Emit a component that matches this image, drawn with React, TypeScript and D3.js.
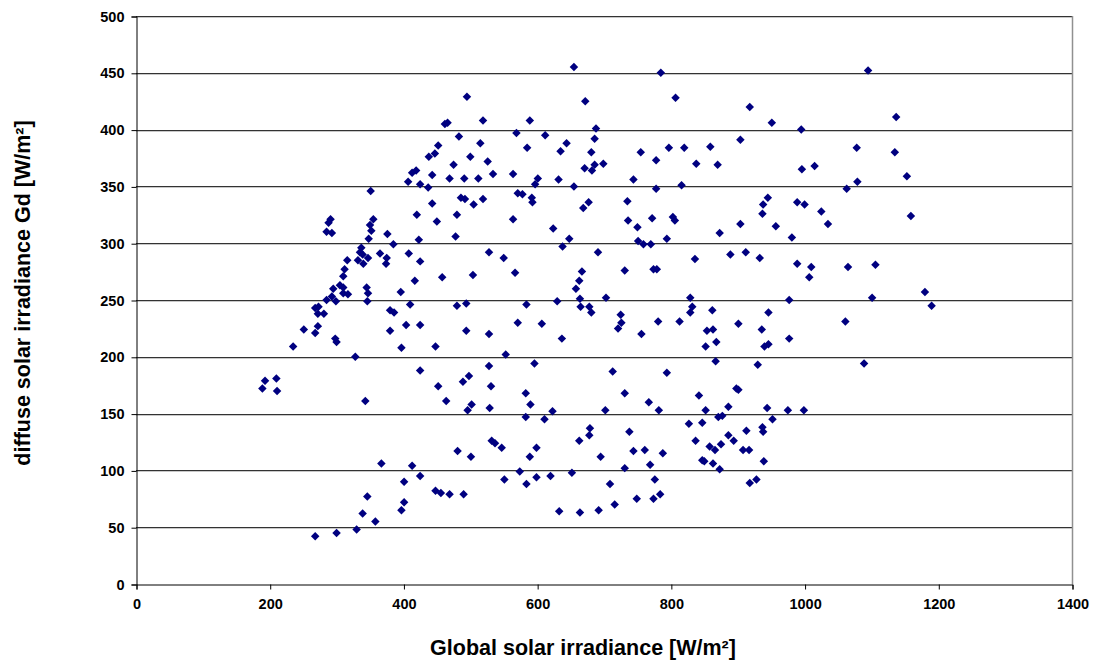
import React, { useEffect, useRef } from "react";
import * as d3 from "d3";

const globalIrr: number[] = [
  351,407,413,419,425,420,291,288,285,293,355,350,352,376,
  655,785,495,672,462,466,519,589,688,483,569,612,686,452,447,438,515,500,526,475,585,644,635,681,686,671,682,699,755,778,443,469,491,512,534,564,601,597,632,744,437,655,778,443,486,492,519,505,571,578,592,593,677,669,735,450,480,564,624,736,750,772,478,
  1095,807,918,951,995,1137,797,820,859,904,838,870,996,1015,1078,1135,816,1063,1079,945,938,937,989,1000,1025,1035,803,806,904,957,873,981,794,
  1153,1159,
  348,385,423,337,335,339,332,340,316,347,365,375,374,408,425,312,310,417,305,310,345,347,346,295,310,317,285,293,299,396,410,268,273,272,281,380,386,251,272,268,380,404,425,298,300,235,397,328,425,193,210,189,211,343,
  648,751,759,770,638,528,550,691,458,504,567,667,663,658,731,774,779,630,664,665,678,681,703,480,494,584,571,607,494,528,637,725,726,721,756,781,448,553,528,596,713,489,498,452,531,583,731,464,502,496,529,590,623,702,767,782,583,
  836,889,912,933,989,1010,1007,1065,1106,829,977,1101,832,829,862,946,813,901,1061,854,863,936,977,868,852,940,946,867,930,1089,794,898,901,842,886,944,852,975,999,871,877,
  1180,1190,
  367,413,425,401,346,401,397,339,358,330,300,268,
  611,679,678,738,663,744,761,695,481,501,532,537,547,599,589,769,551,574,584,599,620,652,731,776,709,784,448,456,469,490,749,774,716,633,664,692,
  827,847,952,913,937,938,837,886,894,858,866,875,908,917,788,847,850,863,873,939,918,928,
];

const diffuseIrr: number[] = [
  346,354,362,364,352,325,321,318,310,309,321,316,311,308,
  455,450,429,425,405,406,408,408,401,394,397,395,392,386,379,376,388,376,372,369,384,388,381,380,369,366,364,370,380,373,360,357,357,357,361,361,357,352,356,356,349,350,348,335,340,339,339,334,344,343,340,336,336,331,337,319,325,321,313,320,314,322,306,
  452,428,420,406,400,411,384,384,385,391,370,369,365,368,384,380,351,348,354,340,334,326,336,334,328,317,323,320,317,315,309,305,304,
  359,324,
  304,299,303,296,292,290,285,282,285,287,291,287,282,291,284,277,271,267,263,261,261,256,249,260,256,255,250,253,249,257,246,243,244,238,238,241,239,224,227,221,223,228,228,216,213,209,208,200,188,179,181,172,170,161,
  304,302,299,299,297,292,287,292,270,272,274,275,267,260,276,277,277,249,251,244,244,239,252,245,247,246,230,229,223,220,216,237,230,225,220,231,209,202,192,194,187,178,183,174,174,168,168,161,158,153,155,158,152,153,160,153,147,
  286,290,292,287,282,279,270,279,281,252,250,252,244,239,241,239,231,229,231,223,224,224,216,213,209,209,211,196,193,194,186,172,171,166,156,155,153,153,153,147,148,
  257,245,
  106,104,95,90,77,72,65,62,55,48,45,42,
  145,137,131,134,126,117,118,112,117,112,126,124,120,120,112,105,92,99,88,94,95,98,102,92,88,79,82,80,79,79,75,75,70,64,63,65,
  141,142,145,135,138,134,126,131,126,121,118,123,118,118,115,109,108,106,101,108,89,92,
];

const xTicks: number[] = [0, 200, 400, 600, 800, 1000, 1200, 1400];
const yTicks: number[] = [0, 50, 100, 150, 200, 250, 300, 350, 400, 450, 500];
const xTitle = "Global solar irradiance [W/m²]";
const yTitle = "diffuse solar irradiance Gd [W/m²]";

const W = 1097;
const H = 660;
const M = { left: 136, right: 1072, top: 16, bottom: 584 };

export default function App() {
  const ref = useRef<SVGSVGElement | null>(null);

  useEffect(() => {
    const svg = d3.select(ref.current);
    svg.selectAll("*").remove();
    const x = d3.scaleLinear().domain([0, 1400]).range([M.left, M.right]);
    const y = d3.scaleLinear().domain([0, 500]).range([M.bottom, M.top]);
    const font = "'Liberation Sans', Arial, sans-serif";

    svg.append("rect").attr("width", W).attr("height", H).attr("fill", "#fff");

    // gridlines
    const g = svg.append("g");
    yTicks.filter((t) => t > 0).forEach((t) => {
      const yy = Math.round(y(t));
      g.append("line")
        .attr("x1", M.left).attr("x2", M.right)
        .attr("y1", yy + 0.5).attr("y2", yy + 0.5)
        .attr("stroke", "#333").attr("stroke-width", 1);
      g.append("line")
        .attr("x1", M.left).attr("x2", M.right)
        .attr("y1", yy + 1.5).attr("y2", yy + 1.5)
        .attr("stroke", "#c8c8c8").attr("stroke-width", 1);
    });

    // right border
    svg.append("line")
      .attr("x1", M.right + 0.5).attr("x2", M.right + 0.5)
      .attr("y1", M.top).attr("y2", M.bottom)
      .attr("stroke", "#909090").attr("stroke-width", 1.5);

    // axes
    const yAxis = d3.axisLeft(y).tickValues(yTicks).tickSize(5).tickFormat(d3.format("d"));
    const xAxis = d3.axisBottom(x).tickValues(xTicks).tickSize(5).tickFormat(d3.format("d"));

    const ya = svg.append("g").attr("transform", `translate(${M.left + 0.5},0.5)`).call(yAxis);
    const xa = svg.append("g").attr("transform", `translate(0.5,${M.bottom + 0.5})`).call(xAxis);
    [ya, xa].forEach((a) => {
      a.select(".domain").attr("stroke", "#000");
      a.selectAll(".tick line").attr("stroke", "#000");
      a.selectAll("text")
        .attr("font-family", font)
        .attr("font-weight", "bold")
        .attr("font-size", 14.5)
        .attr("fill", "#000");
    });
    ya.selectAll("text").attr("x", -12);
    xa.selectAll("text").attr("y", 14);

    // points
    const data = globalIrr.map((gv, i) => ({ gx: gv, dy: diffuseIrr[i] }));
    const sym = d3.symbol().type(d3.symbolDiamond2).size(46);
    svg.append("g")
      .selectAll("path")
      .data(data)
      .join("path")
      .attr("transform", (d) => `translate(${x(d.gx)},${y(d.dy)})`)
      .attr("d", sym() as string)
      .attr("fill", "#000080");

    // titles
    svg.append("text")
      .attr("x", 583)
      .attr("y", 655)
      .attr("text-anchor", "middle")
      .attr("font-family", font)
      .attr("font-weight", "bold")
      .attr("font-size", 21.5)
      .text(xTitle);

    svg.append("text")
      .attr("transform", `translate(30,293) rotate(-90)`)
      .attr("text-anchor", "middle")
      .attr("font-family", font)
      .attr("font-weight", "bold")
      .attr("font-size", 21.5)
      .text(yTitle);
  }, []);

  return (
    <svg
      ref={ref}
      width={W}
      height={H}
      style={{ position: "absolute", left: 0, top: 0, display: "block" }}
    />
  );
}
